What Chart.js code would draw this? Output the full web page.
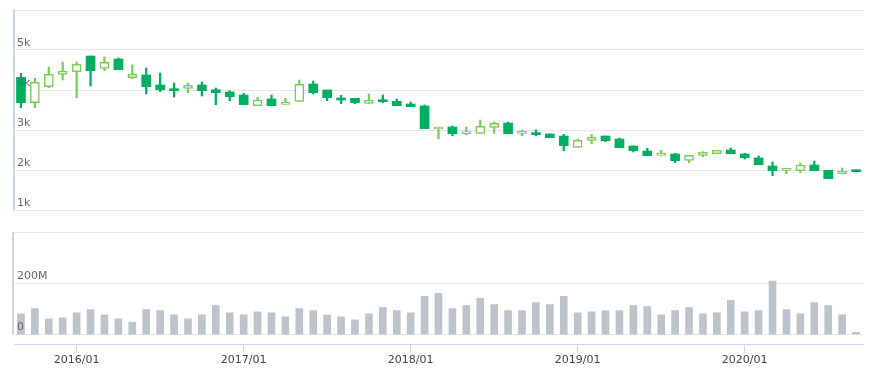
<!DOCTYPE html>
<html>
<head>
<meta charset="utf-8">
<script src="https://cdn.jsdelivr.net/npm/chart.js@4.4.0/dist/chart.umd.min.js"></script>
<style>
  body { margin: 0; background: #fff; }
  #wrap { position: relative; width: 886px; height: 378px; }
  #priceChart { position: absolute; left: 0; top: 0; }
  #volumeChart { position: absolute; left: 0; top: 220px; }
</style>
</head>
<body>
<div id="wrap">
  <canvas id="priceChart" width="886" height="222"></canvas>
  <canvas id="volumeChart" width="886" height="158"></canvas>
</div>
<script>
// Monthly candles, 2015/09 - 2020/09
const months = [
    '2015/09', '2015/10', '2015/11', '2015/12',
    '2016/01', '2016/02', '2016/03', '2016/04', '2016/05', '2016/06', '2016/07', '2016/08', '2016/09', '2016/10', '2016/11', '2016/12',
    '2017/01', '2017/02', '2017/03', '2017/04', '2017/05', '2017/06', '2017/07', '2017/08', '2017/09', '2017/10', '2017/11', '2017/12',
    '2018/01', '2018/02', '2018/03', '2018/04', '2018/05', '2018/06', '2018/07', '2018/08', '2018/09', '2018/10', '2018/11', '2018/12',
    '2019/01', '2019/02', '2019/03', '2019/04', '2019/05', '2019/06', '2019/07', '2019/08', '2019/09', '2019/10', '2019/11', '2019/12',
    '2020/01', '2020/02', '2020/03', '2020/04', '2020/05', '2020/06', '2020/07', '2020/08', '2020/09'
];
const tickLabels = ['2016/01', '2017/01', '2018/01', '2019/01', '2020/01'];

const open = [4317, 3683, 4083, 4392, 4458, 4850, 4542, 4775, 4308, 4375, 4125, 4025, 4042, 4125, 4008, 3950,
    3875, 3608, 3775, 3642, 3717, 4150, 4000, 3775, 3792, 3667, 3750, 3717,
    3650, 3600, 3025, 3075, 2908, 2917, 3067, 3175, 2917, 2925, 2900, 2850,
    2567, 2742, 2850, 2775, 2600, 2475, 2367, 2400, 2242, 2367, 2408, 2500,
    2400, 2300, 2100, 1992, 1983, 2125, 1992, 1908, 1975];
const high = [4417, 4292, 4575, 4700, 4700, 4850, 4825, 4800, 4625, 4550, 4425, 4175, 4175, 4200, 4050, 3983,
    3917, 3817, 3875, 3792, 4250, 4225, 4000, 3867, 3792, 3900, 3875, 3775,
    3700, 3625, 3075, 3100, 3075, 3250, 3200, 3200, 2992, 3000, 2900, 2892,
    2775, 2892, 2850, 2800, 2600, 2542, 2492, 2417, 2367, 2458, 2492, 2550,
    2417, 2350, 2200, 2042, 2175, 2225, 1992, 2050, 2000];
const low = [3558, 3558, 4058, 4250, 3808, 4100, 4483, 4508, 4283, 3900, 3958, 3825, 3933, 3850, 3633, 3733,
    3633, 3608, 3608, 3642, 3717, 3900, 3733, 3658, 3658, 3667, 3683, 3608,
    3583, 3033, 2783, 2858, 2883, 2917, 2917, 2908, 2858, 2858, 2808, 2483,
    2567, 2658, 2708, 2558, 2450, 2358, 2367, 2183, 2183, 2333, 2408, 2408,
    2275, 2133, 1858, 1908, 1933, 1983, 1783, 1908, 1958];
const close = [3683, 4192, 4392, 4475, 4642, 4483, 4692, 4508, 4392, 4083, 4008, 3983, 4117, 3983, 3933, 3833,
    3633, 3750, 3608, 3692, 4142, 3933, 3808, 3750, 3683, 3742, 3708, 3608,
    3583, 3033, 3075, 2908, 2925, 3092, 3167, 2908, 2967, 2883, 2808, 2608,
    2742, 2817, 2733, 2558, 2483, 2358, 2417, 2233, 2367, 2442, 2492, 2408,
    2308, 2133, 1983, 2025, 2125, 1983, 1783, 1967, 1958];

// volume in millions
const volume = [81, 101, 61, 65, 85, 97, 77, 61, 49, 97, 93, 77, 61, 77, 113, 85,
    77, 89, 85, 69, 101, 93, 77, 69, 57, 81, 105, 93,
    85, 149, 161, 101, 113, 141, 117, 93, 93, 125, 117, 149,
    85, 89, 93, 93, 113, 109, 77, 93, 105, 81, 85, 133,
    89, 93, 209, 97, 81, 125, 113, 77, 9];

const priceTicks = [1000, 2000, 3000, 4000, 5000, 6000];
const volumeTicks = [0, 200, 400];

const upColor = '#7ccb56';
const downColor = '#00ae62';
const gridColor = '#e6e6e6';
const axisColor = '#ccd6eb';
const fontFamily = '"DejaVu Sans", Verdana, sans-serif';

Chart.defaults.font.family = fontFamily;
Chart.defaults.font.size = 11;
Chart.defaults.color = '#666';

function isUp(i) {
    return close[i] >= open[i];
}

// left axis line that stops at the zero line (volume pane)
const leftLinePlugin = {
    id: 'leftLine',
    afterDatasetsDraw(chart) {
        const y = chart.scales.y;
        const ctx = chart.ctx;
        ctx.save();
        ctx.strokeStyle = axisColor;
        ctx.lineWidth = 2;
        ctx.beginPath();
        ctx.moveTo(chart.chartArea.left - 1, chart.chartArea.top);
        ctx.lineTo(chart.chartArea.left - 1, y.getPixelForValue(0));
        ctx.stroke();
        ctx.restore();
    }
};

function initPriceChart() {
    const ctx = document.getElementById('priceChart').getContext('2d');
    new Chart(ctx, {
        type: 'bar',
        data: {
            labels: months,
            datasets: [{
                label: 'body',
                data: months.map((m, i) => [open[i], close[i]]),
                grouped: false,
                order: 0,
                barThickness: 9,
                minBarLength: 2,
                borderSkipped: false,
                borderWidth: c => isUp(c.dataIndex) ? 1.5 : 0,
                borderColor: c => isUp(c.dataIndex) ? upColor : downColor,
                backgroundColor: c => isUp(c.dataIndex) ? '#ffffff' : downColor
            }, {
                label: 'wick',
                data: months.map((m, i) => [low[i], high[i]]),
                grouped: false,
                order: 1,
                barThickness: 1.6,
                borderWidth: 0,
                backgroundColor: c => isUp(c.dataIndex) ? upColor : downColor
            }]
        },
        options: {
            responsive: false,
            animation: false,
            layout: { padding: { left: 8, right: 23, top: 10, bottom: 12 } },
            plugins: { legend: { display: false }, tooltip: { enabled: false } },
            scales: {
                x: { display: false },
                y: {
                    min: 1000,
                    max: 6000,
                    afterBuildTicks: scale => {
                        scale.ticks = priceTicks.map(v => ({ value: v }));
                    },
                    border: { display: true, color: axisColor, width: 2 },
                    grid: { color: gridColor, drawTicks: false },
                    ticks: {
                        z: 1,
                        mirror: true,
                        padding: 3,
                        labelOffset: -7,
                        callback: v => v === 6000 ? '' : (v / 1000) + 'k'
                    }
                }
            }
        }
    });
}

function initVolumeChart() {
    const ctx = document.getElementById('volumeChart').getContext('2d');
    new Chart(ctx, {
        type: 'bar',
        data: {
            labels: months,
            datasets: [{
                label: 'volume',
                data: volume,
                barThickness: 7,
                backgroundColor: '#bec3cb'
            }]
        },
        options: {
            responsive: false,
            animation: false,
            layout: { padding: { left: 8, right: 23, top: 12, bottom: 10 } },
            plugins: { legend: { display: false }, tooltip: { enabled: false } },
            scales: {
                x: {
                    border: { display: true, color: axisColor, width: 1 },
                    grid: {
                        offset: false,
                        drawOnChartArea: false,
                        drawTicks: true,
                        tickLength: 8,
                        color: c => (c.tick && tickLabels.includes(months[c.tick.value])) ? axisColor : 'rgba(0,0,0,0)'
                    },
                    ticks: {
                        autoSkip: false,
                        maxRotation: 0,
                        padding: 1,
                        color: '#444',
                        callback: (v, i) => tickLabels.includes(months[i]) ? months[i] : ''
                    }
                },
                y: {
                    min: -40,
                    max: 400,
                    afterBuildTicks: scale => {
                        scale.ticks = volumeTicks.map(v => ({ value: v }));
                    },
                    border: { display: false },
                    grid: { color: gridColor, drawTicks: false },
                    ticks: {
                        z: 1,
                        mirror: true,
                        padding: 3,
                        labelOffset: -7,
                        callback: v => v === 0 ? '0' : (v === 200 ? '200M' : '')
                    }
                }
            }
        },
        plugins: [leftLinePlugin]
    });
}

document.addEventListener('DOMContentLoaded', function() {
    initPriceChart();
    initVolumeChart();
});
</script>
</body>
</html>
